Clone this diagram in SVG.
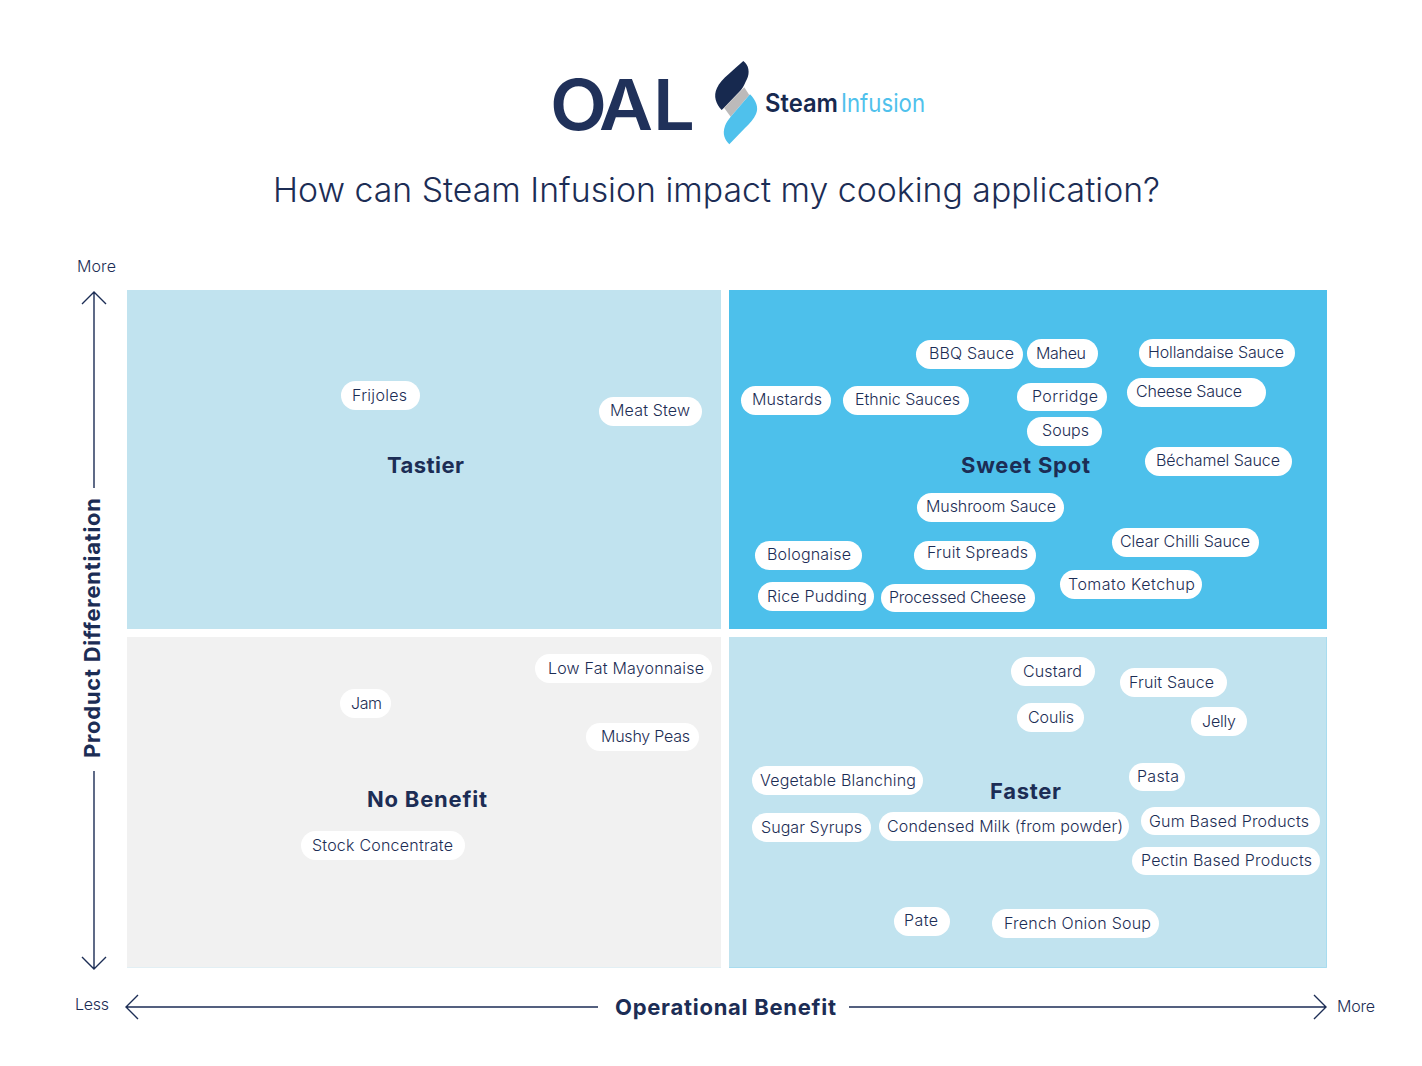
<svg xmlns="http://www.w3.org/2000/svg" width="1422" height="1066" viewBox="0 0 1422 1066">
<defs>
<style>
text{font-family:"Inter","Liberation Sans",sans-serif;fill:#1c2d55}
.p rect{fill:#fff}
.p text{font-size:16px;font-weight:300}
.q{font-size:22px;font-weight:700}
.a{font-size:16px;font-weight:300}
.l{fill:none;stroke:#1c2d55;stroke-width:1.4}
</style>
</defs>
<rect width="1422" height="1066" fill="#fff"/>
<g id="logo">
<text transform="translate(0,130) scale(1.06,1)" x="519 565 616" y="0" font-size="70" style="font-weight:600;fill:#20315a">OAL</text>
<path d="M743.3,61C749,65 750,73 747,79C745,83 744,86 741,90L724,107.7L721.7,110C716,104 713,96 717,88C721,79 735,69 743.3,61Z" fill="#17294f"/>
<path d="M744.3,87.3L749.3,95L730.7,116.7L724,107.7Z" fill="#bcbaba"/>
<path d="M750,94.3C756,100 759,108 756,114C754,119 750,123 745,128L729.3,144.3C725,140 722,134 725,126C726,123 728,120 730.7,116.7Z" fill="#4fc1ec"/>
<text x="765" y="112" font-size="25" textLength="73" lengthAdjust="spacingAndGlyphs" style="font-weight:600;fill:#17294f">Steam</text>
<text x="841" y="112" font-size="25" textLength="84" lengthAdjust="spacingAndGlyphs" style="font-weight:400;fill:#4fc1ec">Infusion</text>
</g>
<text id="title" x="273" y="201.5" font-size="33.5" textLength="887" lengthAdjust="spacingAndGlyphs" style="font-weight:300">How can Steam Infusion impact my cooking application?</text>
<g id="quadrants">
<rect id="q-tastier" x="127" y="290" width="594" height="339" fill="#c1e3ef"/>
<rect id="q-sweet" x="729" y="290" width="598" height="339" fill="#4dc0eb"/>
<rect id="q-none" x="127" y="637" width="594" height="331" fill="#f1f1f1"/>
<path d="M127,967.5H721" stroke="#e2eff4" fill="none"/>
<rect id="q-faster" x="729" y="637" width="598" height="331" fill="#c1e3ef"/>
<path d="M1326.5,637V967.5H729" stroke="#a8dcef" fill="none"/>
</g>
<g id="connectors">
<path class="l" d="M94,292V488M94,771V969M82,304L94,292L106,304M82,957L94,969L106,957"/>
<path class="l" d="M126,1007H598M849,1007H1326M138,995L126,1007L138,1019M1314,995L1326,1007L1314,1019"/>
</g>
<g id="axis-labels">
<text class="a" x="77" y="272" textLength="39">More</text>
<text class="a" x="75" y="1010" textLength="34">Less</text>
<text class="a" x="1337" y="1012" textLength="38">More</text>
<text class="q" x="615" y="1015" textLength="221">Operational Benefit</text>
<text class="q" transform="translate(100,758) rotate(-90)" textLength="260">Product Differentiation</text>
</g>
<g id="quadrant-labels">
<text class="q" x="387" y="473" textLength="77">Tastier</text>
<text class="q" x="961" y="473" textLength="129">Sweet Spot</text>
<text class="q" x="367" y="807" textLength="120">No Benefit</text>
<text class="q" x="990" y="799" textLength="71">Faster</text>
</g>
<g class="p">
<g id="n-frijoles"><rect x="341" y="381" width="79" height="29" rx="14.5"/><text x="352" y="401" textLength="55">Frijoles</text></g>
<g id="n-meat-stew"><rect x="599" y="397" width="103" height="29" rx="14.5"/><text x="610" y="416" textLength="80">Meat Stew</text></g>
<g id="n-low-fat"><rect x="535" y="654" width="177" height="29" rx="14.5"/><text x="548" y="674" textLength="156">Low Fat Mayonnaise</text></g>
<g id="n-jam"><rect x="340" y="689" width="51" height="29" rx="14.5"/><text x="351" y="709" textLength="31">Jam</text></g>
<g id="n-mushy"><rect x="586" y="723" width="113" height="28" rx="14"/><text x="601" y="742" textLength="89">Mushy Peas</text></g>
<g id="n-stock"><rect x="301" y="831" width="164" height="29" rx="14.5"/><text x="312" y="851" textLength="141">Stock Concentrate</text></g>
<g id="n-bbq"><rect x="916" y="340" width="107" height="29" rx="14.5"/><text x="929" y="359" textLength="85">BBQ Sauce</text></g>
<g id="n-maheu"><rect x="1027" y="339" width="71" height="29" rx="14.5"/><text x="1036" y="359" textLength="50">Maheu</text></g>
<g id="n-hollandaise"><rect x="1139" y="339" width="156" height="28" rx="14"/><text x="1148" y="358" textLength="136">Hollandaise Sauce</text></g>
<g id="n-mustards"><rect x="741" y="386" width="90" height="29" rx="14.5"/><text x="752" y="405" textLength="70">Mustards</text></g>
<g id="n-ethnic"><rect x="843" y="386" width="126" height="29" rx="14.5"/><text x="855" y="405" textLength="105">Ethnic Sauces</text></g>
<g id="n-porridge"><rect x="1017" y="383" width="90" height="28" rx="14"/><text x="1032" y="402" textLength="66">Porridge</text></g>
<g id="n-cheese"><rect x="1127" y="378" width="139" height="29" rx="14.5"/><text x="1136" y="397" textLength="106">Cheese Sauce</text></g>
<g id="n-soups"><rect x="1027" y="417" width="75" height="29" rx="14.5"/><text x="1042" y="436" textLength="47">Soups</text></g>
<g id="n-bechamel"><rect x="1145" y="447" width="147" height="29" rx="14.5"/><text x="1156" y="466" textLength="124">Béchamel Sauce</text></g>
<g id="n-mushroom"><rect x="917" y="493" width="147" height="29" rx="14.5"/><text x="926" y="512" textLength="130">Mushroom Sauce</text></g>
<g id="n-bolognaise"><rect x="755" y="541" width="107" height="29" rx="14.5"/><text x="767" y="560" textLength="84">Bolognaise</text></g>
<g id="n-fruit-spreads"><rect x="914" y="541" width="122" height="29" rx="14.5"/><text x="927" y="558" textLength="101">Fruit Spreads</text></g>
<g id="n-chilli"><rect x="1112" y="528" width="147" height="29" rx="14.5"/><text x="1120" y="547" textLength="130">Clear Chilli Sauce</text></g>
<g id="n-ketchup"><rect x="1060" y="570" width="142" height="29" rx="14.5"/><text x="1068" y="590" textLength="127">Tomato Ketchup</text></g>
<g id="n-rice"><rect x="758" y="582" width="116" height="29" rx="14.5"/><text x="767" y="602" textLength="100">Rice Pudding</text></g>
<g id="n-processed"><rect x="881" y="584" width="154" height="28" rx="14"/><text x="889" y="603" textLength="137">Processed Cheese</text></g>
<g id="n-custard"><rect x="1011" y="657" width="84" height="29" rx="14.5"/><text x="1023" y="677" textLength="59">Custard</text></g>
<g id="n-fruit-sauce"><rect x="1120" y="668" width="107" height="29" rx="14.5"/><text x="1129" y="688" textLength="85">Fruit Sauce</text></g>
<g id="n-coulis"><rect x="1017" y="703" width="67" height="29" rx="14.5"/><text x="1028" y="723" textLength="46">Coulis</text></g>
<g id="n-jelly"><rect x="1191" y="707" width="56" height="29" rx="14.5"/><text x="1202" y="727" textLength="34">Jelly</text></g>
<g id="n-pasta"><rect x="1129" y="763" width="56" height="28" rx="14"/><text x="1137" y="782" textLength="42">Pasta</text></g>
<g id="n-vegetable"><rect x="752" y="766" width="171" height="29" rx="14.5"/><text x="760" y="786" textLength="156">Vegetable Blanching</text></g>
<g id="n-sugar"><rect x="752" y="813" width="119" height="29" rx="14.5"/><text x="761" y="833" textLength="101">Sugar Syrups</text></g>
<g id="n-condensed"><rect x="879" y="812" width="250" height="29" rx="14.5"/><text x="887" y="832" textLength="236">Condensed Milk (from powder)</text></g>
<g id="n-gum"><rect x="1141" y="807" width="179" height="28" rx="14"/><text x="1149" y="827" textLength="160">Gum Based Products</text></g>
<g id="n-pectin"><rect x="1132" y="847" width="188" height="28" rx="14"/><text x="1141" y="866" textLength="171">Pectin Based Products</text></g>
<g id="n-pate"><rect x="894" y="907" width="56" height="29" rx="14.5"/><text x="904" y="926" textLength="34">Pate</text></g>
<g id="n-french"><rect x="992" y="909" width="167" height="29" rx="14.5"/><text x="1004" y="929" textLength="147">French Onion Soup</text></g>
</g>
</svg>
